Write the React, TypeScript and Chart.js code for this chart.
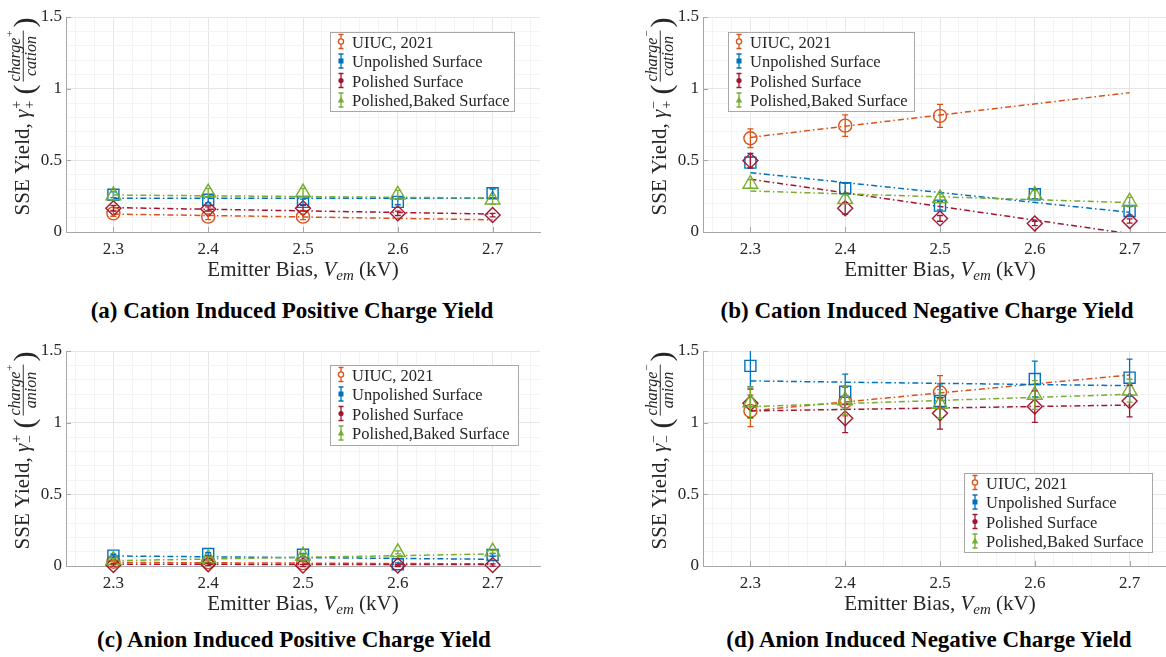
import React, { useEffect, useRef } from 'react';
import { Chart, registerables } from 'chart.js';

Chart.register(...registerables);

// ---------- data ----------
const xValues = [2.3, 2.4, 2.5, 2.6, 2.7];
const uiucX = [2.3, 2.4, 2.5];
const fitX = [2.3, 2.7];
const xTickValues = [2.3, 2.4, 2.5, 2.6, 2.7];
const xTickLabels = ['2.3', '2.4', '2.5', '2.6', '2.7'];
const yTickValues = [0, 0.5, 1, 1.5];
const yTickLabels = ['0', '0.5', '1', '1.5'];
const seriesNames = ['UIUC, 2021', 'Unpolished Surface', 'Polished Surface', 'Polished,Baked Surface'];

// (a) cation induced positive charge yield
const aUiuc = [0.13, 0.107, 0.107];
const aUiucErr = [0.02, 0.02, 0.02];
const aUiucFit = [0.125, 0.085];
const aUnpol = [0.26, 0.225, 0.21, 0.21, 0.27];
const aUnpolErr = [0.02, 0.02, 0.02, 0.02, 0.03];
const aUnpolFit = [0.235, 0.235];
const aPol = [0.166, 0.16, 0.166, 0.13, 0.118];
const aPolErr = [0.02, 0.015, 0.02, 0.015, 0.012];
const aPolFit = [0.17, 0.125];
const aBaked = [0.255, 0.275, 0.275, 0.26, 0.225];
const aBakedErr = [0.03, 0.03, 0.03, 0.03, 0.03];
const aBakedFit = [0.258, 0.237];

// (b) cation induced negative charge yield
const bUiuc = [0.654, 0.742, 0.81];
const bUiucErr = [0.066, 0.075, 0.08];
const bUiucFit = [0.66, 0.972];
const bUnpol = [0.484, 0.305, 0.184, 0.263, 0.147];
const bUnpolErr = [0.04, 0.035, 0.03, 0.03, 0.03];
const bUnpolFit = [0.414, 0.137];
const bPol = [0.498, 0.165, 0.095, 0.06, 0.077];
const bPolErr = [0.05, 0.04, 0.02, 0.015, 0.015];
const bPolFit = [0.368, -0.012];
const bBaked = [0.335, 0.228, 0.235, 0.258, 0.211];
const bBakedErr = [0.03, 0.03, 0.03, 0.03, 0.03];
const bBakedFit = [0.286, 0.205];

// (c) anion induced positive charge yield
const cUiuc = [0.03, 0.026, 0.02];
const cUiucErr = [0.01, 0.01, 0.01];
const cUiucFit = [0.025, 0.015];
const cUnpol = [0.072, 0.084, 0.078, 0.012, 0.077];
const cUnpolErr = [0.01, 0.01, 0.01, 0.01, 0.01];
const cUnpolFit = [0.07, 0.047];
const cPol = [0.007, 0.012, 0.003, 0.003, 0.007];
const cPolErr = [0.008, 0.008, 0.008, 0.008, 0.008];
const cPolFit = [0.012, 0.01];
const cBaked = [0.042, 0.053, 0.072, 0.095, 0.1];
const cBakedErr = [0.01, 0.01, 0.01, 0.01, 0.01];
const cBakedFit = [0.037, 0.084];

// (d) anion induced negative charge yield
const dUiuc = [1.082, 1.147, 1.212];
const dUiucErr = [0.11, 0.1, 0.116];
const dUiucFit = [1.082, 1.333];
const dUnpol = [1.396, 1.216, 1.151, 1.305, 1.314];
const dUnpolErr = [0.145, 0.123, 0.12, 0.125, 0.13];
const dUnpolFit = [1.291, 1.258];
const dPol = [1.135, 1.03, 1.065, 1.112, 1.151];
const dPolErr = [0.1, 0.1, 0.11, 0.11, 0.11];
const dPolFit = [1.082, 1.123];
const dBaked = [1.14, 1.155, 1.13, 1.193, 1.223];
const dBakedErr = [0.11, 0.1, 0.1, 0.1, 0.08];
const dBakedFit = [1.112, 1.198];

// ---------- styles ----------
const FONT = '"Liberation Serif", "Times New Roman", serif';
const COLORS = ['#D95319', '#0072BD', '#A2142F', '#77AC30'];
const POINT_STYLES = ['circle', 'rect', 'rectRot', 'triangle'];
const POINT_RADII = [6.5, 7.8, 7.5, 8.5];
const AXIS_COLOR = '#a6a6a6';
const TEXT_COLOR = '#262626';
const MAJOR_GRID = '#e6e6e6';
const MINOR_GRID = '#f3f3f3';
const MINUS = '\u2212';

const near = (a: number, b: number) => Math.abs(a - b) < 1e-6;

// grid positions (layout only)
function gridValues(min: number, max: number, step: number) {
  const out: number[] = [];
  const n = Math.round((max - min) / step);
  for (let i = 0; i <= n; i++) out.push(Math.round((min + i * step) * 1000) / 1000);
  return out;
}
const xGrid = gridValues(2.26, 2.74, 0.02);
const yGrid = gridValues(0, 1.5, 0.1);

function drawYTitle(ctx: CanvasRenderingContext2D, bx: number, cy: number, top: string, bottom: string, den: string) {
  ctx.save();
  ctx.translate(bx, cy);
  ctx.rotate(-Math.PI / 2);
  ctx.fillStyle = TEXT_COLOR;
  ctx.textBaseline = 'alphabetic';
  ctx.textAlign = 'left';
  const fMain = `21px ${FONT}`;
  const fiMain = `italic 21px ${FONT}`;
  const fSup = `14px ${FONT}`;
  const fiFrac = `italic 16px ${FONT}`;
  const fFracSup = `11px ${FONT}`;
  const fParen = `30px ${FONT}`;
  ctx.font = fMain; const wA = ctx.measureText('SSE Yield, ').width;
  ctx.font = fiMain; const wG = ctx.measureText('\u03b3').width + 1;
  ctx.font = fSup; const wS = Math.max(ctx.measureText(top).width, ctx.measureText(bottom).width) + 1;
  ctx.font = fMain; const wSp = ctx.measureText(' ').width;
  ctx.font = fParen; const wP = ctx.measureText('(').width;
  ctx.font = fiFrac; const wNum = ctx.measureText('charge').width;
  ctx.font = fFracSup; const wNumS = ctx.measureText(top).width;
  ctx.font = fiFrac; const wDen = ctx.measureText(den).width;
  const wF = Math.max(wNum + wNumS + 1, wDen) + 6;
  const total = wA + wG + wS + wSp + wP + wF + wP;
  let x = -total / 2;
  ctx.font = fMain; ctx.fillText('SSE Yield, ', x, 0); x += wA;
  ctx.font = fiMain; ctx.fillText('\u03b3', x, 0); x += wG;
  ctx.font = fSup; ctx.fillText(top, x, -8); ctx.fillText(bottom, x, 5); x += wS + wSp;
  ctx.font = fParen; ctx.fillText('(', x, 5); x += wP;
  const fx = x + 3;
  const inner = wF - 6;
  ctx.font = fiFrac; ctx.fillText('charge', fx + (inner - wNum - wNumS - 1) / 2, -9);
  ctx.font = fFracSup; ctx.fillText(top, fx + (inner - wNum - wNumS - 1) / 2 + wNum + 1, -16);
  ctx.font = fiFrac; ctx.fillText(den, fx + (inner - wDen) / 2, 6.5);
  ctx.fillRect(fx, -6.2, inner, 0.9);
  x += wF;
  ctx.font = fParen; ctx.fillText(')', x, 5);
  ctx.restore();
}

function drawXTitle(ctx: CanvasRenderingContext2D, cx: number, by: number) {
  const segs = [
    { t: 'Emitter Bias, ', f: `21px ${FONT}`, dy: 0 },
    { t: 'V', f: `italic 21px ${FONT}`, dy: 0 },
    { t: 'em', f: `italic 15px ${FONT}`, dy: 4 },
    { t: ' (kV)', f: `21px ${FONT}`, dy: 0 },
  ];
  ctx.save();
  ctx.fillStyle = TEXT_COLOR;
  ctx.textBaseline = 'alphabetic';
  ctx.textAlign = 'left';
  let w = 0;
  for (const s of segs) { ctx.font = s.f; w += ctx.measureText(s.t).width; }
  let x = cx - w / 2;
  for (const s of segs) {
    ctx.font = s.f;
    ctx.fillText(s.t, x, by + s.dy);
    x += ctx.measureText(s.t).width;
  }
  ctx.restore();
}

function drawLegendIcon(ctx: CanvasRenderingContext2D, i: number, x: number, y: number) {
  const c = COLORS[i];
  ctx.strokeStyle = c;
  ctx.fillStyle = c;
  ctx.lineWidth = 1.3;
  ctx.beginPath();
  ctx.moveTo(x, y - 7); ctx.lineTo(x, y + 7);
  ctx.moveTo(x - 2.5, y - 7); ctx.lineTo(x + 2.5, y - 7);
  ctx.moveTo(x - 2.5, y + 7); ctx.lineTo(x + 2.5, y + 7);
  ctx.stroke();
  ctx.beginPath();
  if (i === 0) {
    ctx.fillStyle = '#fff';
    ctx.arc(x, y, 2.6, 0, Math.PI * 2);
    ctx.fill();
    ctx.stroke();
  } else if (i === 1) {
    ctx.fillRect(x - 2.5, y - 2.5, 5, 5);
  } else if (i === 2) {
    ctx.arc(x, y, 2.6, 0, Math.PI * 2);
    ctx.fill();
  } else {
    ctx.moveTo(x, y - 3.5); ctx.lineTo(x + 3.2, y + 2.5); ctx.lineTo(x - 3.2, y + 2.5); ctx.closePath();
    ctx.fill();
  }
}

const decorPlugin = {
  id: 'decor',
  beforeDatasetsDraw(chart: any) {
    const { ctx, chartArea: ca, scales } = chart;
    ctx.save();
    ctx.strokeStyle = AXIS_COLOR;
    ctx.lineWidth = 1;
    ctx.beginPath();
    xTickValues.forEach((v) => {
      const px = Math.round(scales.x.getPixelForValue(v)) + 0.5;
      ctx.moveTo(px, ca.bottom); ctx.lineTo(px, ca.bottom - 5);
    });
    yTickValues.forEach((v) => {
      const py = Math.round(scales.y.getPixelForValue(v)) + 0.5;
      ctx.moveTo(ca.left, py); ctx.lineTo(ca.left + 5, py);
    });
    ctx.stroke();
    ctx.restore();
  },
  afterDatasetsDraw(chart: any) {
    const { ctx, chartArea: ca, scales } = chart;
    ctx.save();
    ctx.beginPath();
    ctx.rect(ca.left, ca.top, ca.right - ca.left, ca.bottom - ca.top + 30);
    ctx.clip();
    chart.data.datasets.forEach((ds: any) => {
      if (!ds.errors) return;
      ctx.strokeStyle = ds.borderColor;
      ctx.lineWidth = 1.3;
      ds.data.forEach((p: any, j: number) => {
        const e = ds.errors[j];
        const px = scales.x.getPixelForValue(p.x);
        const y1 = scales.y.getPixelForValue(p.y + e);
        const y2 = scales.y.getPixelForValue(p.y - e);
        ctx.beginPath();
        ctx.moveTo(px, y1); ctx.lineTo(px, y2);
        ctx.moveTo(px - 3, y1); ctx.lineTo(px + 3, y1);
        ctx.moveTo(px - 3, y2); ctx.lineTo(px + 3, y2);
        ctx.stroke();
      });
    });
    ctx.restore();
  },
  afterDraw(chart: any, _args: any, opts: any) {
    const { ctx, chartArea: ca } = chart;
    drawXTitle(ctx, (ca.left + ca.right) / 2, ca.bottom + 44);
    drawYTitle(ctx, ca.left - 37, (ca.top + ca.bottom) / 2 - 8, opts.top, opts.bottom, opts.den);
    const L = opts.legend;
    ctx.save();
    ctx.fillStyle = '#ffffff';
    ctx.fillRect(L.x, L.y, L.w, L.h);
    ctx.strokeStyle = '#a8a8a8';
    ctx.lineWidth = 1;
    ctx.strokeRect(L.x + 0.5, L.y + 0.5, L.w, L.h);
    ctx.textBaseline = 'alphabetic';
    ctx.textAlign = 'left';
    seriesNames.forEach((name, i) => {
      const ry = L.y + 9.5 + i * 19.5;
      drawLegendIcon(ctx, i, L.x + 11, ry);
      ctx.fillStyle = TEXT_COLOR;
      ctx.font = `16.5px ${FONT}`;
      ctx.fillText(name, L.x + 22, ry + 6);
    });
    ctx.restore();
  },
};

type Series = { x: number[]; y: number[]; err: number[]; fit: number[] };

function buildDatasets(series: Series[]) {
  const ds: any[] = [];
  series.forEach((s, i) => {
    ds.push({
      data: fitX.map((x, j) => ({ x, y: s.fit[j] })),
      showLine: true,
      borderColor: COLORS[i],
      backgroundColor: COLORS[i],
      borderWidth: 1.5,
      borderDash: [6, 3, 1.5, 3],
      pointRadius: 0,
      order: 10 - i,
      clip: 0,
    });
  });
  series.forEach((s, i) => {
    ds.push({
      data: s.x.map((x, j) => ({ x, y: s.y[j] })),
      errors: s.err,
      showLine: false,
      borderColor: COLORS[i],
      backgroundColor: 'rgba(0,0,0,0)',
      pointStyle: POINT_STYLES[i],
      pointRadius: POINT_RADII[i],
      pointBorderWidth: 1.4,
      borderWidth: 1.4,
      order: 3 - i,
      clip: false,
    });
  });
  return ds;
}

type PanelProps = {
  left: number; top: number; width: number; height: number;
  padLeft: number; padRight: number;
  series: Series[];
  signTop: string; signBottom: string; den: string;
  legend: { x: number; y: number; w: number; h: number };
};

function Panel(p: PanelProps) {
  const ref = useRef<HTMLCanvasElement>(null);
  useEffect(() => {
    if (!ref.current) return;
    const tickFont = { family: FONT, size: 17 };
    const chart = new Chart(ref.current, {
      type: 'scatter',
      data: { datasets: buildDatasets(p.series) },
      plugins: [decorPlugin as any],
      options: {
        animation: false,
        responsive: false,
        maintainAspectRatio: false,
        events: [],
        layout: { padding: { left: p.padLeft, right: p.padRight, top: 17, bottom: 0 } },
        plugins: {
          legend: { display: false },
          tooltip: { enabled: false },
          decor: { top: p.signTop, bottom: p.signBottom, den: p.den, legend: p.legend },
        } as any,
        scales: {
          x: {
            type: 'linear',
            min: 2.25,
            max: 2.75,
            afterBuildTicks: (s: any) => { s.ticks = xGrid.map((v) => ({ value: v })); },
            afterFit: (s: any) => { s.height = 58; },
            ticks: {
              autoSkip: false,
              maxRotation: 0,
              minRotation: 0,
              padding: 7,
              font: tickFont,
              color: TEXT_COLOR,
              callback: (v: any) => {
                const k = xTickValues.findIndex((t) => near(t, Number(v)));
                return k >= 0 ? xTickLabels[k] : '';
              },
            },
            grid: {
              drawTicks: false,
              lineWidth: 1,
              color: (c: any) => (c.tick && xTickValues.some((t) => near(t, c.tick.value)) ? MAJOR_GRID : MINOR_GRID),
            },
            border: { display: true, color: AXIS_COLOR, width: 1 },
          },
          y: {
            type: 'linear',
            min: 0,
            max: 1.5,
            afterBuildTicks: (s: any) => { s.ticks = yGrid.map((v) => ({ value: v })); },
            afterFit: (s: any) => { s.width = 50; },
            ticks: {
              autoSkip: false,
              padding: 4,
              font: tickFont,
              color: TEXT_COLOR,
              callback: (v: any) => {
                const k = yTickValues.findIndex((t) => near(t, Number(v)));
                return k >= 0 ? yTickLabels[k] : '';
              },
            },
            grid: {
              drawTicks: false,
              lineWidth: 1,
              color: (c: any) => (c.tick && yTickValues.some((t) => near(t, c.tick.value)) ? MAJOR_GRID : MINOR_GRID),
            },
            border: { display: true, color: AXIS_COLOR, width: 1 },
          },
        },
      } as any,
    });
    let alive = true;
    const fonts: any = (document as any).fonts;
    if (fonts && fonts.ready) {
      fonts.ready.then(() => { if (alive) chart.update(); }).catch(() => {});
    }
    return () => { alive = false; chart.destroy(); };
  }, []);
  return (
    <canvas
      ref={ref}
      width={p.width}
      height={p.height}
      style={{ position: 'absolute', left: p.left, top: p.top, width: p.width, height: p.height }}
    />
  );
}

const captionStyle = (cx: number, cy: number): React.CSSProperties => ({
  position: 'absolute',
  left: cx - 300,
  top: cy - 14,
  width: 600,
  height: 28,
  lineHeight: '28px',
  textAlign: 'center',
  fontFamily: FONT,
  fontWeight: 'bold',
  fontSize: 23,
  color: '#000',
  whiteSpace: 'nowrap',
});

export default function App() {
  const seriesA: Series[] = [
    { x: uiucX, y: aUiuc, err: aUiucErr, fit: aUiucFit },
    { x: xValues, y: aUnpol, err: aUnpolErr, fit: aUnpolFit },
    { x: xValues, y: aPol, err: aPolErr, fit: aPolFit },
    { x: xValues, y: aBaked, err: aBakedErr, fit: aBakedFit },
  ];
  const seriesB: Series[] = [
    { x: uiucX, y: bUiuc, err: bUiucErr, fit: bUiucFit },
    { x: xValues, y: bUnpol, err: bUnpolErr, fit: bUnpolFit },
    { x: xValues, y: bPol, err: bPolErr, fit: bPolFit },
    { x: xValues, y: bBaked, err: bBakedErr, fit: bBakedFit },
  ];
  const seriesC: Series[] = [
    { x: uiucX, y: cUiuc, err: cUiucErr, fit: cUiucFit },
    { x: xValues, y: cUnpol, err: cUnpolErr, fit: cUnpolFit },
    { x: xValues, y: cPol, err: cPolErr, fit: cPolFit },
    { x: xValues, y: cBaked, err: cBakedErr, fit: cBakedFit },
  ];
  const seriesD: Series[] = [
    { x: uiucX, y: dUiuc, err: dUiucErr, fit: dUiucFit },
    { x: xValues, y: dUnpol, err: dUnpolErr, fit: dUnpolFit },
    { x: xValues, y: dPol, err: dPolErr, fit: dPolFit },
    { x: xValues, y: dBaked, err: dBakedErr, fit: dBakedFit },
  ];
  return (
    <div style={{ position: 'fixed', left: 0, top: 0, width: 1166, height: 657, overflow: 'hidden', background: '#fff', fontFamily: FONT }}>
      <Panel left={0} top={0} width={583} height={290} padLeft={16} padRight={43} series={seriesA}
        signTop="+" signBottom="+" den="cation" legend={{ x: 330, y: 32, w: 184, h: 79 }} />
      <Panel left={583} top={0} width={620} height={290} padLeft={70} padRight={26} series={seriesB}
        signTop={MINUS} signBottom="+" den="cation" legend={{ x: 145, y: 32, w: 186, h: 79 }} />
      <Panel left={0} top={334} width={583} height={290} padLeft={16} padRight={43} series={seriesC}
        signTop="+" signBottom={MINUS} den="anion" legend={{ x: 330, y: 31, w: 188, h: 80 }} />
      <Panel left={583} top={334} width={620} height={290} padLeft={70} padRight={26} series={seriesD}
        signTop={MINUS} signBottom={MINUS} den="anion" legend={{ x: 381, y: 139, w: 188, h: 79 }} />
      <div style={captionStyle(292, 311)}>(a) Cation Induced Positive Charge Yield</div>
      <div style={captionStyle(927, 311)}>(b) Cation Induced Negative Charge Yield</div>
      <div style={captionStyle(294, 640)}>(c) Anion Induced Positive Charge Yield</div>
      <div style={captionStyle(929, 640)}>(d) Anion Induced Negative Charge Yield</div>
    </div>
  );
}
